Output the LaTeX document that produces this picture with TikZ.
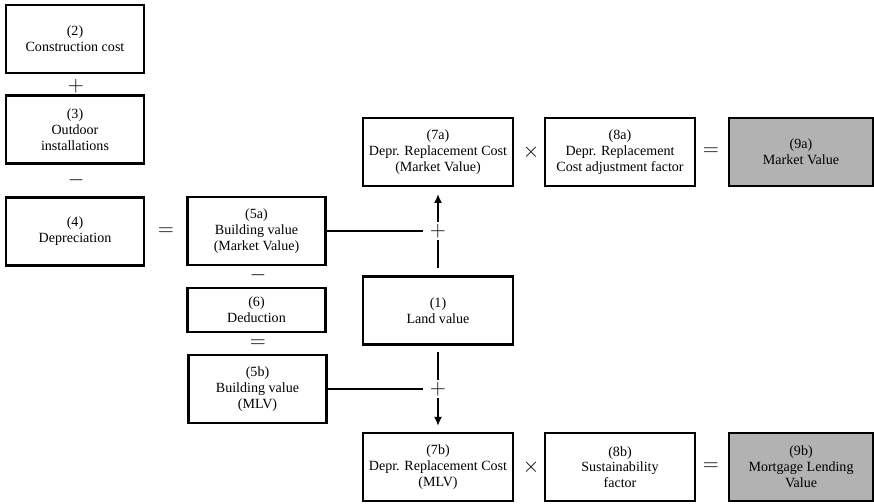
\documentclass[tikz,border=0pt]{standalone}
\usepackage{fontspec}
\setmainfont{Liberation Serif}
\usetikzlibrary{shapes,arrows,arrows.meta,positioning}
\usepackage{xcolor}

\begin{document}
\begin{tikzpicture}[x=0.02cm, y=-0.02cm,
        box/.style={draw, line width=1.3pt, align=center, inner sep=1pt, minimum width=2.76cm, minimum height=1.36cm, font=\fontsize{8}{9}\selectfont},
        wide/.style={box, minimum width=3.0cm},
        result/.style={box, minimum width=2.88cm, fill=gray!60},
        op/.style={inner sep=0pt, font=\fontsize{12}{14}\selectfont},
        plusmark/.style={op, minimum width=0.6cm, minimum height=0.36cm},
        link/.style={line width=0.7pt}]
        \useasboundingbox (0,0) rectangle (874,503);

        % Building value chain (left column)
        \node[box] (n2) at (75, 39) {(2)\\Construction cost};
        \node[op] (o1) at (76, 86) {$+$};
        \node[box] (n3) at (75, 129.5) {(3)\\Outdoor\\installations};
        \node[op] (o2) at (76, 180) {$-$};
        \node[box] (n4) at (75, 231.5) {(4)\\Depreciation};
        \node[op] (o3) at (166, 232) {$=$};

        % Building values
        \node[box] (n5a) at (256.5, 231) {(5a)\\Building value\\(Market Value)};
        \node[op] (o4) at (258, 275) {$-$};
        \node[box, minimum height=0.88cm] (n6) at (256.5, 310) {(6)\\Deduction};
        \node[op] (o5) at (258, 344) {$=$};
        \node[box] (n5b) at (257.5, 389) {(5b)\\Building value\\(MLV)};

        % Land value
        \node[wide] (n1) at (438, 310.5) {(1)\\Land value};

        % Market value row
        \node[wide] (n7a) at (438, 152) {(7a)\\Depr. Replacement Cost\\(Market Value)};
        \node[op] (o6) at (531, 152) {$\times$};
        \node[wide] (n8a) at (620, 152) {(8a)\\Depr. Replacement\\Cost adjustment factor};
        \node[op] (o7) at (711, 152) {$=$};
        \node[result] (n9a) at (801, 152) {(9a)\\Market Value};

        % Mortgage lending value row
        \node[wide] (n7b) at (438, 467) {(7b)\\Depr. Replacement Cost\\(MLV)};
        \node[op] (o8) at (531, 467) {$\times$};
        \node[wide] (n8b) at (620, 467) {(8b)\\Sustainability\\factor};
        \node[op] (o9) at (711, 467) {$=$};
        \node[result] (n9b) at (801, 467) {(9b)\\Mortgage Lending\\Value};

        % Sums of building value and land value
        \node[plusmark] (pa) at (438, 231) {$+$};
        \node[plusmark] (pb) at (438, 389) {$+$};

        \draw[link] (n5a.east) -- (pa.west);
        \draw[link, shorten <=4pt] (n1.north) -- (pa.south);
        \draw[link, -{Latex[length=5pt, width=4.5pt]}, shorten >=4pt] (pa.north) -- (n7a.south);

        \draw[link] (n5b.east) -- (pb.west);
        \draw[link, shorten <=3.5pt] (n1.south) -- (pb.north);
        \draw[link, -{Latex[length=5pt, width=4.5pt]}, shorten >=3.5pt] (pb.south) -- (n7b.north);
    \end{tikzpicture}
\end{document}
